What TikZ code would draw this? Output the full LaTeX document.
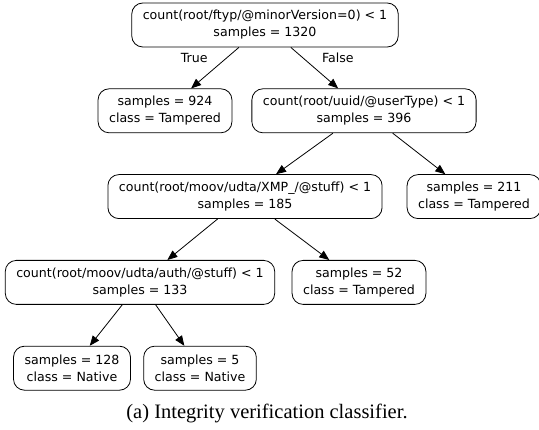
\documentclass[tikz,border=0pt]{standalone}
\usepackage{fontspec}
\setmainfont{Liberation Serif}
\newfontfamily\dejavu{DejaVu Sans}
\usetikzlibrary{positioning, arrows.meta}

\begin{document}
\begin{tikzpicture}[
     node distance = 41pt and 20pt,
        test/.style = {rectangle, draw, line width=0.8pt, rounded corners=11pt,
                       align=center, minimum height=44pt, inner xsep=11pt,
                       font=\dejavu\fontsize{12.6}{17}\selectfont},
        lbl/.style  = {font=\dejavu\fontsize{12.6}{15}\selectfont, inner sep=1pt},
        arr/.style  = {-{Triangle[length=10pt,width=8pt]}, line width=0.8pt}
                        ]
\useasboundingbox (0,0) rectangle (539pt,-430pt);
\node (root)[test] at (265pt,-25pt) {count(root/ftyp/@minorVersion=0) < 1\\samples = 1320};
\node (n924)[test, below=of root, xshift=-100pt] {samples = 924\\class = Tampered};
\node (uuid)[test, below=of root, xshift=99pt] {count(root/uuid/@userType) < 1\\samples = 396};
\node (xmp) [test, below=of uuid, xshift=-119pt] {count(root/moov/udta/XMP\_/@stuff) < 1\\samples = 185};
\node (n211)[test, below=of uuid, xshift=110pt] {samples = 211\\class = Tampered};
\node (auth)[test, below=of xmp, xshift=-105pt] {count(root/moov/udta/auth/@stuff) < 1\\samples = 133};
\node (n52) [test, below=of xmp, xshift=114pt] {samples = 52\\class = Tampered};
\node (n128)[test, below=of auth, xshift=-68pt] {samples = 128\\class = Native};
\node (n5)  [test, below=of auth, xshift=60pt] {samples = 5\\class = Native};
\draw[arr] (root) to node[lbl, pos=0.25, left=18pt] {True} (n924);
\draw[arr] (root) to node[lbl, pos=0.25, right=18pt] {False} (uuid);
\draw[arr] (uuid) to (xmp);
\draw[arr] (uuid) to (n211);
\draw[arr] (xmp) to (auth);
\draw[arr] (xmp) to (n52);
\draw[arr] (auth) to (n128);
\draw[arr] (auth) to (n5);
\node (cap) at (267pt,-413pt) {\fontsize{20.5}{24}\selectfont (a) Integrity verification classifier.};
\end{tikzpicture}
\end{document}
